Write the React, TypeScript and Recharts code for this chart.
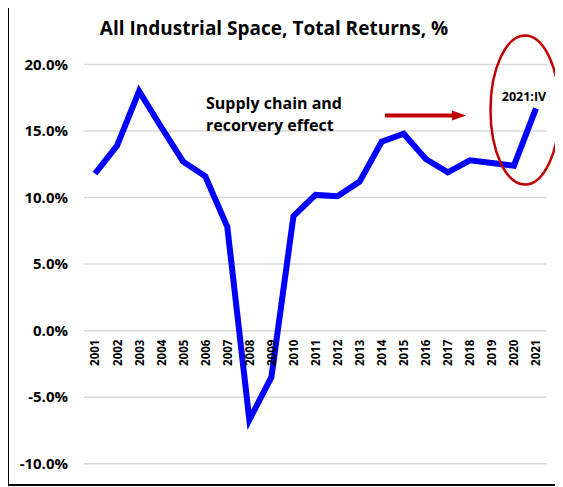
import React from 'react';
import { LineChart, Line, XAxis, YAxis, CartesianGrid } from 'recharts';

// anos e retornos totais (%)
const years = [
  '2001', '2002', '2003', '2004', '2005', '2006', '2007', '2008', '2009', '2010', '2011',
  '2012', '2013', '2014', '2015', '2016', '2017', '2018', '2019', '2020', '2021',
];
const totalReturns = [
  11.8, 13.9, 18.0, 15.3, 12.7, 11.6, 7.8, -6.7, -3.5, 8.6, 10.2,
  10.1, 11.2, 14.2, 14.8, 12.9, 11.9, 12.8, 12.6, 12.4, 16.7,
];
const yTicks = [-10, -5, 0, 5, 10, 15, 20];

const data = years.map((year, i) => ({ year, value: totalReturns[i] }));

const W = 563;
const H = 487;
const FONT = '"Open Sans", Lato, sans-serif';
const X_AXIS_H = 20;
const MARGIN = { top: 64.5, right: 16, bottom: 23.3 - X_AXIS_H, left: 14 };
const Y_MIN = -10;
const Y_MAX = 20;
const DARK_RED = '#c00000';

// os rótulos do eixo X ficam logo abaixo da linha do zero
const plotH = H - MARGIN.top - MARGIN.bottom - X_AXIS_H;
const zeroY = MARGIN.top + (Y_MAX / (Y_MAX - Y_MIN)) * plotH;

const renderYearTick = (props: any) => {
  const { x, payload } = props;
  const ty = zeroY + 9;
  return (
    <text
      key={payload.value}
      x={x}
      y={ty}
      transform={`rotate(-90, ${x}, ${ty})`}
      textAnchor="end"
      dominantBaseline="central"
      fontFamily={FONT}
      fontWeight={700}
      fontSize={11.5}
      fill="#000"
    >
      {payload.value}
    </text>
  );
};

const App = () => {
  return (
    <div style={{ position: 'relative', width: W, height: H }}>
      <div
        style={{
          position: 'absolute',
          left: -1,
          top: -4,
          width: 570,
          height: 482,
          boxSizing: 'border-box',
          borderTop: '2px solid #000',
          borderLeft: '2px solid #000',
          borderBottom: '2px solid #000',
          background: '#fff',
        }}
      />
      <div style={{ position: 'absolute', left: -8, top: -8 }}>
        <LineChart width={W} height={H} data={data} margin={MARGIN}>
          <CartesianGrid vertical={false} stroke="#d9d9d9" strokeWidth={1.5} />
          <XAxis
            dataKey="year"
            height={X_AXIS_H}
            axisLine={false}
            tickLine={false}
            interval={0}
            padding={{ left: 11, right: 11 }}
            tick={renderYearTick}
          />
          <YAxis
            domain={[Y_MIN, Y_MAX]}
            ticks={yTicks}
            width={70}
            axisLine={false}
            tickLine={false}
            tickSize={0}
            tickMargin={16}
            tickFormatter={(v: number) => `${v.toFixed(1)}%`}
            tick={{ fontFamily: FONT, fontWeight: 700, fontSize: 15, fill: '#000' }}
          />
          <Line
            type="linear"
            dataKey="value"
            stroke="#0000ff"
            strokeWidth={6}
            dot={false}
            isAnimationActive={false}
          />
        </LineChart>
        <svg
          width={W}
          height={H}
          style={{ position: 'absolute', left: 0, top: 0, pointerEvents: 'none' }}
        >
          <text x={274} y={35} textAnchor="middle" fontFamily={FONT} fontWeight={700} fontSize={19} fill="#000">
            All Industrial Space, Total Returns, %
          </text>
          <text x={206} y={109} fontFamily={FONT} fontWeight={700} fontSize={16} fill="#000">
            Supply chain and
          </text>
          <text x={206} y={131} fontFamily={FONT} fontWeight={700} fontSize={16} fill="#000">
            recorvery effect
          </text>
          <line x1={385} y1={115.5} x2={454} y2={115.5} stroke={DARK_RED} strokeWidth={4} />
          <polygon points="452,110.5 466,115.5 452,120.5" fill={DARK_RED} />
          <ellipse cx={525} cy={110} rx={34.5} ry={74.5} fill="none" stroke={DARK_RED} strokeWidth={2.5} />
          <text x={524} y={101} textAnchor="middle" fontFamily={FONT} fontWeight={700} fontSize={12.5} fill="#000">
            2021:IV
          </text>
        </svg>
      </div>
    </div>
  );
};

export default App;
